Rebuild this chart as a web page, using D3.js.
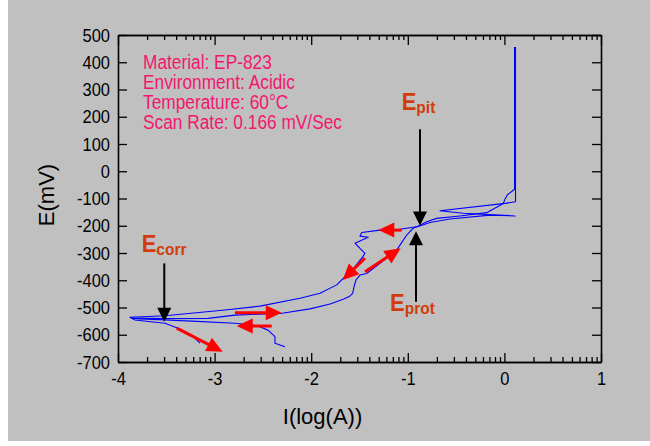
<!DOCTYPE html>
<html>
<head>
<meta charset="utf-8">
<script src="https://cdn.jsdelivr.net/npm/d3@7"></script>
<style>
  body { margin: 0; background: #fff; }
  svg { display: block; }
  .tick text { font-family: "Liberation Sans", Arial, sans-serif; font-size: 16.5px; fill: #000; }
</style>
</head>
<body>
<div id="chart"></div>
<script>
// tick labels
const xMajor = [-4, -3, -2, -1, 0, 1];
const yMajor = [-700, -600, -500, -400, -300, -200, -100, 0, 100, 200, 300, 400, 500];

// forward scan (log I, E mV)
const forwardScan = [
  [-2.271, -644], [-2.375, -631], [-2.375, -607], [-2.447, -583], [-2.551, -568],
  [-2.616, -564], [-2.789, -558], [-3.237, -550], [-3.513, -546], [-3.772, -542],
  [-3.855, -539], [-3.513, -541], [-3.068, -540], [-2.789, -528], [-2.302, -521],
  [-2.012, -505], [-1.805, -487], [-1.668, -470], [-1.606, -460], [-1.571, -448],
  [-1.557, -424], [-1.536, -399], [-1.495, -381], [-1.426, -375], [-1.288, -338],
  [-1.115, -289], [-1.081, -271], [-1.011, -234], [-0.943, -209], [-0.891, -201],
  [-0.804, -185], [-0.701, -173], [-0.460, -164], [-0.183, -152], [-0.011, -118],
  [0.006, -103], [0.030, -87], [0.105, -66], [0.105, 456]
];

// reverse scan
const reverseScan = [
  [0.115, 456], [0.115, -112], [0.006, -118], [-0.667, -145], [-0.426, -154],
  [0.110, -164], [-0.149, -161], [-0.563, -175], [-0.770, -188], [-0.891, -203],
  [-1.081, -213], [-1.288, -216], [-1.477, -225], [-1.495, -238], [-1.409, -242],
  [-1.547, -264], [-1.495, -283], [-1.443, -301], [-1.477, -319], [-1.547, -350],
  [-1.650, -387], [-1.736, -417], [-1.909, -448], [-2.116, -466], [-2.530, -495],
  [-2.892, -509], [-3.513, -530], [-3.876, -536], [-3.824, -546], [-3.513, -558],
  [-3.379, -576], [-3.237, -601], [-3.151, -631]
];

// scan direction arrows
const scanArrows = [
  { from: [-2.789, -519], to: [-2.305, -519] },
  { from: [-2.409, -568], to: [-2.771, -568] },
  { from: [-3.392, -576], to: [-2.916, -662] },
  { from: [-1.063, -216], to: [-1.305, -216] },
  { from: [-1.443, -319], to: [-1.674, -399] },
  { from: [-1.443, -369], to: [-1.074, -283] }
];

// potential markers
const markers = [
  { sub: "pit", from: [-0.874, 154], to: [-0.874, -199], label: [-1.063, 225] },
  { sub: "prot", from: [-0.915, -479], to: [-0.915, -220], label: [-1.184, -513] },
  { sub: "corr", from: [-3.521, -338], to: [-3.521, -552], label: [-3.755, -295] }
];

const infoLines = [
  "Material: EP-823",
  "Environment: Acidic",
  "Temperature: 60\u00B0C",
  "Scan Rate: 0.166 mV/Sec"
];

const W = 650, H = 446;
const margin = { left: 118, right: 49, top: 35, bottom: 84 };

const svg = d3.select('#chart').append('svg')
  .attr('width', W)
  .attr('height', H);

svg.append('rect')
  .attr('x', 8).attr('y', 0)
  .attr('width', W - 8).attr('height', 441)
  .attr('fill', '#c0c0c0');

const x = d3.scaleLinear().domain([-4, 1]).range([margin.left, W - margin.right]);
const y = d3.scaleLinear().domain([-700, 500]).range([H - margin.bottom, margin.top]);

// minor log ticks inside each decade
const xMinor = [];
for (let d = -4; d < 1; d++) {
  for (let k = 2; k <= 9; k++) xMinor.push(d + Math.log10(k));
}

const fmt = d => String(d);

function styleAxis(g) {
  g.select('.domain').attr('stroke', '#000').attr('stroke-width', 1.6);
  g.selectAll('.tick line').attr('stroke', '#000').attr('stroke-width', 1.3);
}

// bottom
svg.append('g')
  .attr('transform', `translate(0,${y.range()[0]})`)
  .call(d3.axisBottom(x).tickValues(xMinor).tickSize(-5).tickSizeOuter(0).tickFormat(''))
  .call(styleAxis);
svg.append('g')
  .attr('transform', `translate(0,${y.range()[0]})`)
  .call(d3.axisBottom(x).tickValues(xMajor).tickSize(-9).tickSizeOuter(0).tickPadding(11).tickFormat(fmt))
  .call(styleAxis);
// top
svg.append('g')
  .attr('transform', `translate(0,${y.range()[1]})`)
  .call(d3.axisTop(x).tickValues(xMinor).tickSize(-5).tickSizeOuter(0).tickFormat(''))
  .call(styleAxis);
svg.append('g')
  .attr('transform', `translate(0,${y.range()[1]})`)
  .call(d3.axisTop(x).tickValues(xMajor).tickSize(-10).tickSizeOuter(0).tickFormat(''))
  .call(styleAxis);
// left
svg.append('g')
  .attr('transform', `translate(${x.range()[0]},0)`)
  .call(d3.axisLeft(y).tickValues(yMajor).tickSize(-9).tickSizeOuter(0).tickPadding(8).tickFormat(fmt))
  .call(styleAxis);
// right
svg.append('g')
  .attr('transform', `translate(${x.range()[1]},0)`)
  .call(d3.axisRight(y).tickValues(yMajor).tickSize(-9).tickSizeOuter(0).tickFormat(''))
  .call(styleAxis);

// stretch tick labels a little vertically, like the original
svg.selectAll('.tick text').each(function() {
  const t = d3.select(this);
  t.attr('transform', function() {
    const bb = this.getBBox();
    const cy = bb.y + bb.height / 2;
    return `translate(0,${cy}) scale(1,1.12) translate(0,${-cy})`;
  });
});

// axis titles
svg.append('text')
  .attr('transform', `translate(54,195) rotate(-90)`)
  .attr('text-anchor', 'middle')
  .style('font-family', '"Liberation Sans", Arial, sans-serif')
  .style('font-size', '22px')
  .text('E(mV)');

svg.append('text')
  .attr('x', (x.range()[0] + x.range()[1]) / 2 - 37)
  .attr('y', 424)
  .attr('text-anchor', 'middle')
  .style('font-family', '"Liberation Sans", Arial, sans-serif')
  .style('font-size', '22px')
  .text('I(log(A))');

// curve
const line = d3.line().x(d => x(d[0])).y(d => y(d[1]));
[forwardScan, reverseScan].forEach(s => {
  svg.append('path')
    .attr('d', line(s))
    .attr('fill', 'none')
    .attr('stroke', '#0000ff')
    .attr('stroke-width', 1.1)
    .attr('stroke-linejoin', 'round');
});

// arrows drawn in pixel space from scaled ends
function arrow(g, a, color, shaftW, headL, headW) {
  const x0 = x(a.from[0]), y0 = y(a.from[1]);
  const x1 = x(a.to[0]), y1 = y(a.to[1]);
  const len = Math.hypot(x1 - x0, y1 - y0);
  const ux = (x1 - x0) / len, uy = (y1 - y0) / len;
  const bx = x1 - ux * headL, by = y1 - uy * headL;
  g.append('line')
    .attr('x1', x0).attr('y1', y0)
    .attr('x2', bx + ux).attr('y2', by + uy)
    .attr('stroke', color)
    .attr('stroke-width', shaftW);
  g.append('path')
    .attr('d', `M${x1},${y1}L${bx - uy * headW / 2},${by + ux * headW / 2}L${bx + uy * headW / 2},${by - ux * headW / 2}Z`)
    .attr('fill', color);
}

const arrowsG = svg.append('g');
scanArrows.forEach(a => arrow(arrowsG, a, '#ff0000', 3, 16, 15));
markers.forEach(m => arrow(arrowsG, m, '#000000', 2, 14, 14));

// marker labels
markers.forEach(m => {
  const lx = x(m.label[0]), ly = y(m.label[1]);
  const t = svg.append('text')
    .attr('x', lx)
    .attr('y', ly)
    .attr('transform', `translate(0,${ly}) scale(1,1.08) translate(0,${-ly})`)
    .style('font-family', '"Liberation Sans", Arial, sans-serif')
    .style('font-weight', 'bold')
    .style('fill', '#d03c0c')
    .style('font-size', '22px');
  t.append('tspan').text('E');
  t.append('tspan')
    .attr('dy', 3)
    .style('font-size', '15.5px')
    .text(m.sub);
});

// info text
svg.append('g').selectAll('text')
  .data(infoLines)
  .join('text')
  .attr('transform', (d, i) => `translate(143,${69 + i * 20}) scale(1,1.12)`)
  .style('font-family', '"Liberation Sans", Arial, sans-serif')
  .style('font-size', '17.3px')
  .style('fill', '#f5156e')
  .text(d => d);
</script>
</body>
</html>
